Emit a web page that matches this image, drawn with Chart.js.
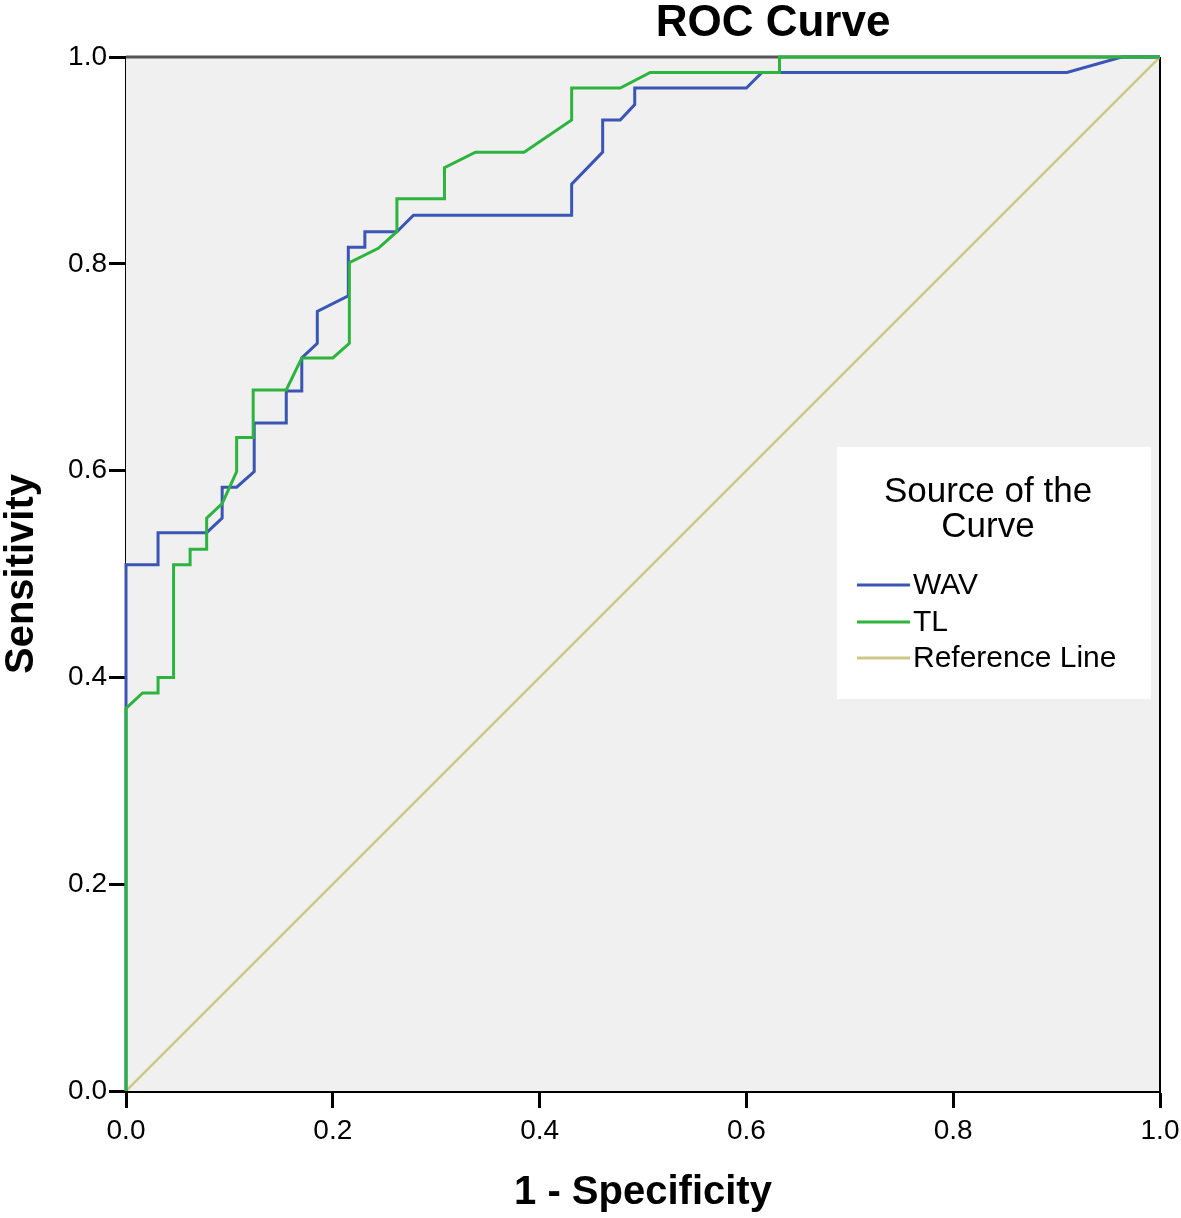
<!DOCTYPE html>
<html>
<head>
<meta charset="utf-8">
<script src="https://cdn.jsdelivr.net/npm/chart.js@4.4.1/dist/chart.umd.min.js"></script>
<style>
  html, body { margin: 0; padding: 0; background: #fff; }
  #wrap { width: 1181px; height: 1218px; }
</style>
</head>
<body>
<div id="wrap"><canvas id="roc" width="1181" height="1218"></canvas></div>
<script>
// ROC curve data (1 - specificity, sensitivity)
const wavFpr = [0, 0, 0.031, 0.031, 0.078, 0.093, 0.093, 0.107, 0.124, 0.124, 0.155, 0.155, 0.170, 0.170, 0.185, 0.185, 0.215, 0.215, 0.231, 0.231, 0.262, 0.278, 0.431, 0.431, 0.461, 0.461, 0.478, 0.492, 0.492, 0.600, 0.615, 0.910, 0.963, 1];
const wavTpr = [0, 0.509, 0.509, 0.540, 0.540, 0.554, 0.584, 0.584, 0.599, 0.646, 0.646, 0.677, 0.677, 0.709, 0.723, 0.754, 0.769, 0.816, 0.816, 0.831, 0.831, 0.847, 0.847, 0.877, 0.908, 0.939, 0.939, 0.954, 0.970, 0.970, 0.985, 0.985, 1, 1];

const tlFpr = [0, 0, 0.016, 0.031, 0.031, 0.046, 0.046, 0.062, 0.062, 0.078, 0.078, 0.093, 0.107, 0.107, 0.123, 0.123, 0.155, 0.170, 0.200, 0.216, 0.216, 0.244, 0.262, 0.262, 0.308, 0.308, 0.338, 0.385, 0.431, 0.431, 0.478, 0.507, 0.632, 0.632, 1];
const tlTpr = [0, 0.370, 0.385, 0.385, 0.400, 0.400, 0.509, 0.509, 0.524, 0.524, 0.554, 0.568, 0.599, 0.632, 0.632, 0.678, 0.678, 0.709, 0.709, 0.723, 0.801, 0.815, 0.831, 0.863, 0.863, 0.893, 0.908, 0.908, 0.939, 0.970, 0.970, 0.985, 0.985, 1, 1];

const refFpr = [0, 1];
const refTpr = [0, 1];

const seriesNames = ['WAV', 'TL', 'Reference Line'];
const seriesColors = ['#3a55b4', '#2cb43f', '#cdc884'];
const tickValues = [0, 0.2, 0.4, 0.6, 0.8, 1.0];

const FONT = "'Liberation Sans', Arial, sans-serif";

function toPoints(xs, ys) {
  return xs.map((x, i) => ({ x, y: ys[i] }));
}

// grey plot background + top/right frame
const framePlugin = {
  id: 'frame',
  beforeDatasetsDraw(chart) {
    const { ctx, chartArea: a } = chart;
    ctx.save();
    ctx.fillStyle = '#f0f0f0';
    ctx.fillRect(a.left, a.top, a.right - a.left, a.bottom - a.top);
    ctx.lineWidth = 3;
    ctx.strokeStyle = '#555';
    ctx.beginPath();
    ctx.moveTo(a.left, a.top);
    ctx.lineTo(a.right, a.top);
    ctx.stroke();
    ctx.lineWidth = 2;
    ctx.strokeStyle = '#000';
    ctx.beginPath();
    ctx.moveTo(a.right, a.top);
    ctx.lineTo(a.right, a.bottom);
    ctx.stroke();
    ctx.restore();
  }
};

// SPSS style legend box inside the plot + chart title
const legendPlugin = {
  id: 'spssLegend',
  afterDraw(chart) {
    const { ctx } = chart;
    ctx.save();
    ctx.fillStyle = '#000';
    ctx.font = `bold 44px ${FONT}`;
    ctx.textAlign = 'center';
    ctx.textBaseline = 'alphabetic';
    ctx.fillText('ROC Curve', 773, 36);

    ctx.fillStyle = '#fff';
    ctx.fillRect(837, 447, 314, 252);
    ctx.fillStyle = '#000';
    ctx.font = `35px ${FONT}`;
    ctx.textBaseline = 'middle';
    ctx.fillText('Source of the', 988, 492);
    ctx.fillText('Curve', 988, 527);

    ctx.font = `30px ${FONT}`;
    ctx.textAlign = 'left';
    const ys = [585, 622, 658];
    seriesNames.forEach((name, i) => {
      ctx.strokeStyle = seriesColors[i];
      ctx.lineWidth = 3;
      ctx.beginPath();
      ctx.moveTo(857, ys[i]);
      ctx.lineTo(910, ys[i]);
      ctx.stroke();
      ctx.fillStyle = '#000';
      ctx.fillText(name, 913, ys[i] + 1);
    });
    ctx.restore();
  }
};

const axisCommon = {
  type: 'linear',
  min: 0,
  max: 1,
  border: { display: true, color: '#000', width: 3 },
  grid: { drawOnChartArea: false, drawTicks: true, tickLength: 17, tickWidth: 3, tickColor: '#000' },
};

new Chart(document.getElementById('roc'), {
  type: 'scatter',
  data: {
    datasets: [
      {
        label: seriesNames[2], data: toPoints(refFpr, refTpr),
        showLine: true, borderColor: seriesColors[2], borderWidth: 2.5,
        pointRadius: 0, tension: 0, order: 3,
      },
      {
        label: seriesNames[0], data: toPoints(wavFpr, wavTpr),
        showLine: true, borderColor: seriesColors[0], borderWidth: 3,
        pointRadius: 0, tension: 0, order: 2, clip: 4,
      },
      {
        label: seriesNames[1], data: toPoints(tlFpr, tlTpr),
        showLine: true, borderColor: seriesColors[1], borderWidth: 3,
        pointRadius: 0, tension: 0, order: 1, clip: 4,
      },
    ]
  },
  options: {
    responsive: false,
    animation: false,
    layout: { padding: { top: 57, right: 21, left: 0, bottom: 0 } },
    plugins: {
      legend: { display: false },
      tooltip: { enabled: false },
      title: { display: false },
    },
    scales: {
      x: {
        ...axisCommon,
        position: 'bottom',
        afterBuildTicks: s => { s.ticks = tickValues.map(v => ({ value: v })); },
        afterFit: s => { s.height = 127; s.paddingLeft = 0; s.paddingRight = 0; },
        ticks: { color: '#000', padding: 6, maxRotation: 0, font: { family: FONT, size: 28 }, callback: v => Number(v).toFixed(1) },
        title: { display: true, text: '1 - Specificity', color: '#000', font: { family: FONT, size: 40, weight: 'bold', lineHeight: 1.1 }, padding: { top: 0, bottom: 3 } },
      },
      y: {
        ...axisCommon,
        position: 'left',
        afterBuildTicks: s => { s.ticks = tickValues.map(v => ({ value: v })); },
        afterFit: s => { s.width = 126; s.paddingTop = 0; s.paddingBottom = 0; },
        ticks: { color: '#000', padding: 2, font: { family: FONT, size: 28 }, callback: v => Number(v).toFixed(1) },
        title: { display: true, text: 'Sensitivity', color: '#000', font: { family: FONT, size: 40, weight: 'bold', lineHeight: 1.1 }, padding: { top: 0, bottom: 0 } },
      },
    }
  },
  plugins: [framePlugin, legendPlugin]
});
</script>
</body>
</html>
